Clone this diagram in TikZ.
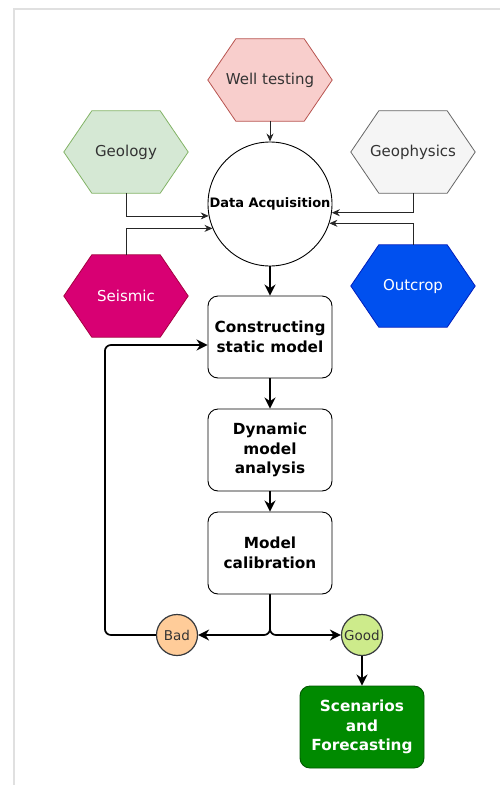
\documentclass[tikz,border=0pt]{standalone}
\usepackage{fontspec}
\setmainfont{DejaVu Sans}
\usetikzlibrary{arrows.meta,backgrounds}

\definecolor{wellfill}{HTML}{F8CECC}
\definecolor{welldraw}{HTML}{B85450}
\definecolor{geofill}{HTML}{D5E8D4}
\definecolor{geodraw}{HTML}{82B366}
\definecolor{phyfill}{HTML}{F5F5F5}
\definecolor{phydraw}{HTML}{666666}
\definecolor{seisfill}{HTML}{D80073}
\definecolor{seisdraw}{HTML}{A50040}
\definecolor{outfill}{HTML}{0050EF}
\definecolor{outdraw}{HTML}{001DBC}
\definecolor{badfill}{HTML}{FFCC99}
\definecolor{goodfill}{HTML}{CDEB8B}
\definecolor{ringdraw}{HTML}{36393D}
\definecolor{scenfill}{HTML}{008A00}
\definecolor{scendraw}{HTML}{005700}
\definecolor{darktext}{HTML}{333333}
\definecolor{framegray}{HTML}{E0E0E0}

\tikzset{
  hexa/.style={rectangle, minimum width=124pt, minimum height=82pt, inner sep=0pt,
    font=\fontsize{15}{18}\selectfont, text=darktext},
  stagebox/.style={rectangle, rounded corners=10pt, draw=black, line width=0.9pt,
    fill=white, minimum width=124pt, minimum height=82pt, inner sep=2pt, align=center,
    font=\fontsize{15.3}{19.5}\selectfont\bfseries},
  verdict/.style={circle, draw=ringdraw, line width=1.2pt, minimum size=41pt,
    inner sep=0pt, font=\fontsize{13.5}{16}\selectfont, text=darktext},
  thinarrow/.style={draw=black!85, line width=0.8pt, -{Stealth[length=8pt,width=7pt]}},
  thickarrow/.style={draw=black, line width=1.7pt, -{Stealth[length=11pt,width=11pt]}},
}

\begin{document}
\begin{tikzpicture}[x=1pt,y=-1pt]
  \useasboundingbox (0,0) rectangle (500,785) ;

  % sources of data
  \node[hexa] (well) at (270,80) {Well testing} ;
  \node[hexa] (geo) at (126,152) {Geology} ;
  \node[hexa] (phy) at (413,152) {Geophysics} ;
  \node[hexa, text=white] (seis) at (126,296) {Seismic} ;
  \node[hexa, text=white] (out) at (413,286) {Outcrop} ;

  \node[circle, draw=black, line width=0.9pt, fill=white, minimum size=124pt,
    inner sep=0pt, font=\fontsize{13}{16}\selectfont\bfseries] (acq) at (270,204)
    {Data Acquisition} ;

  % workflow
  \node[stagebox] (static) at (270,337) {Constructing\\static model} ;
  \node[stagebox] (dyn) at (270,450) {Dynamic\\model\\analysis} ;
  \node[stagebox] (calib) at (270,553) {Model\\calibration} ;
  \node[verdict, fill=badfill] (bad) at (177,635) {Bad} ;
  \node[verdict, fill=goodfill] (good) at (362,635) {Good} ;
  \node[stagebox, fill=scenfill, draw=scendraw, text=white] (scen) at (362,727)
    {Scenarios\\and\\Forecasting} ;

  \begin{scope}[on background layer]
    \draw[framegray, line width=1.5pt] (14,785) -- (14,9) -- (500,9) ;
    \foreach \n/\f/\d in {well/wellfill/welldraw, geo/geofill/geodraw,
        phy/phyfill/phydraw, seis/seisfill/seisdraw, out/outfill/outdraw}
      \draw[fill=\f, draw=\d, line width=0.8pt] (\n.west)
        -- ([xshift=28pt]\n.north west) -- ([xshift=-28pt]\n.north east)
        -- (\n.east) -- ([xshift=-28pt]\n.south east)
        -- ([xshift=28pt]\n.south west) -- cycle ;
  \end{scope}

  % inputs
  \draw[thinarrow] (well.south) -- (acq.north) ;
  \draw[thinarrow] (geo.south) |- (acq.191) ;
  \draw[thinarrow] (seis.north) |- (acq.203) ;
  \draw[thinarrow] (phy.south) |- (acq.352) ;
  \draw[thinarrow] (out.north) |- (acq.342) ;

  % main chain
  \draw[thickarrow] (acq.south) -- (static.north) ;
  \draw[thickarrow] (static.south) -- (dyn.north) ;
  \draw[thickarrow] (dyn.south) -- (calib.north) ;
  \draw[thickarrow, rounded corners=6pt] (calib.south) |- (bad.east) ;
  \draw[thickarrow, rounded corners=6pt] (calib.south) |- (good.west) ;
  \draw[thickarrow, rounded corners=6pt] (bad.west) -- ++(-51,0)
    |- ([yshift=-8pt]static.west) ;
  \draw[thickarrow] (good.south) -- (scen.north) ;
\end{tikzpicture}
\end{document}
